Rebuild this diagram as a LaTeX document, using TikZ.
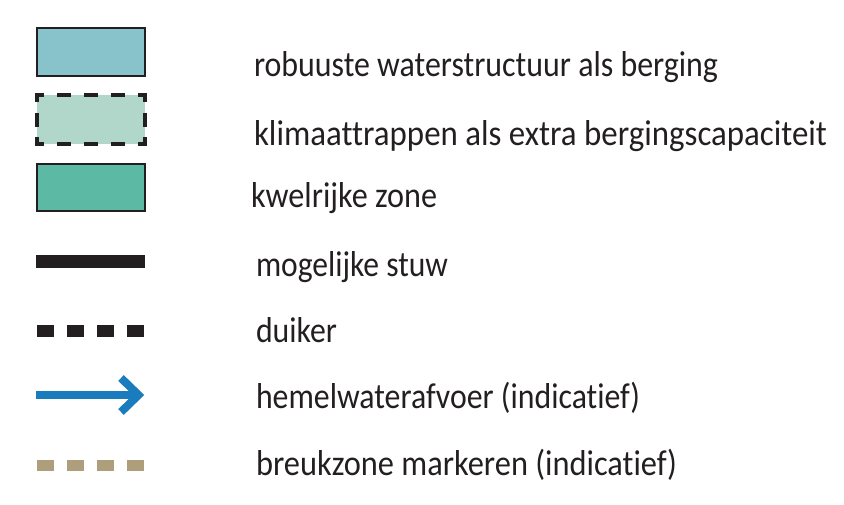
\documentclass[tikz,border=0pt]{standalone}
\usepackage{fontspec}
\usepackage{graphicx}
\setmainfont[Ligatures={NoCommon,NoRare,NoContextual}]{Carlito}
\definecolor{ink}{HTML}{231F20}
\definecolor{robuust}{HTML}{88C3CB}
\definecolor{klimaat}{HTML}{B1D6CA}
\definecolor{kwel}{HTML}{5BB9A4}
\definecolor{hemel}{HTML}{1A7BBD}
\definecolor{breuk}{HTML}{AE9E7B}
\tikzset{
  lbl/.style={anchor=base west, inner sep=0pt, outer sep=0pt, text=ink, font=\fontsize{36}{42}\selectfont},
  swatch/.style={draw=ink, line width=2.5pt},
  dashside/.style={draw=ink, line width=4pt, line cap=butt},
  barline/.style={line width=13pt, line cap=butt},
  dashline/.style={line width=11.5pt, line cap=butt, dash pattern=on 17pt off 13pt},
}
\newcommand{\lblw}[2]{\resizebox{#1pt}{\height}{#2}}
\begin{document}
\begin{tikzpicture}[x=1pt,y=-1pt]
\useasboundingbox (0,0) rectangle (844,504);
% swatch 1
\fill[robuust] (37,28) rectangle (145,76);
\draw[swatch] (37,28) rectangle (145,76);
% swatch 2 (dashed)
\fill[klimaat] (37,95) rectangle (145,144);
\draw[dashside, dash pattern=on 14pt off 13pt, dash phase=5pt] (35,95) -- (147,95);
\draw[dashside, dash pattern=on 14pt off 13pt, dash phase=5pt] (35,144) -- (147,144);
\draw[dashside, dash pattern=on 14pt off 10.5pt, dash phase=5pt] (37,93) -- (37,146);
\draw[dashside, dash pattern=on 14pt off 10.5pt, dash phase=5pt] (145,93) -- (145,146);
% swatch 3
\fill[kwel] (37,164) rectangle (145,211);
\draw[swatch] (37,164) rectangle (145,211);
% stuw
\draw[barline, ink] (36,261) -- (145,261);
% duiker
\draw[dashline, ink] (37,331) -- (144,331);
% hemelwaterafvoer
\draw[hemel, line width=8.3pt, line cap=butt] (36,395) -- (138,395);
\draw[hemel, line width=8pt, line cap=butt, line join=miter] (121,378) -- (138.5,395) -- (121,412);
% breukzone
\draw[dashline, breuk] (37,465.5) -- (144,465.5);
% labels
\node[lbl] (t1) at (254,76) {\lblw{464}{robuuste waterstructuur als berging}};
\node[lbl] (t2) at (254,145) {\lblw{573}{klimaattrappen als extra bergingscapaciteit}};
\node[lbl] (t3) at (251,207) {\lblw{186}{kwelrijke zone}};
\node[lbl] (t4) at (256,276) {\lblw{192}{mogelijke stuw}};
\node[lbl] (t5) at (256,342) {\lblw{81}{duiker}};
\node[lbl] (t6) at (256,408) {\lblw{384}{hemelwaterafvoer (indicatief)}};
\node[lbl] (t7) at (256,475) {\lblw{421}{breukzone markeren (indicatief)}};
\end{tikzpicture}
\end{document}
